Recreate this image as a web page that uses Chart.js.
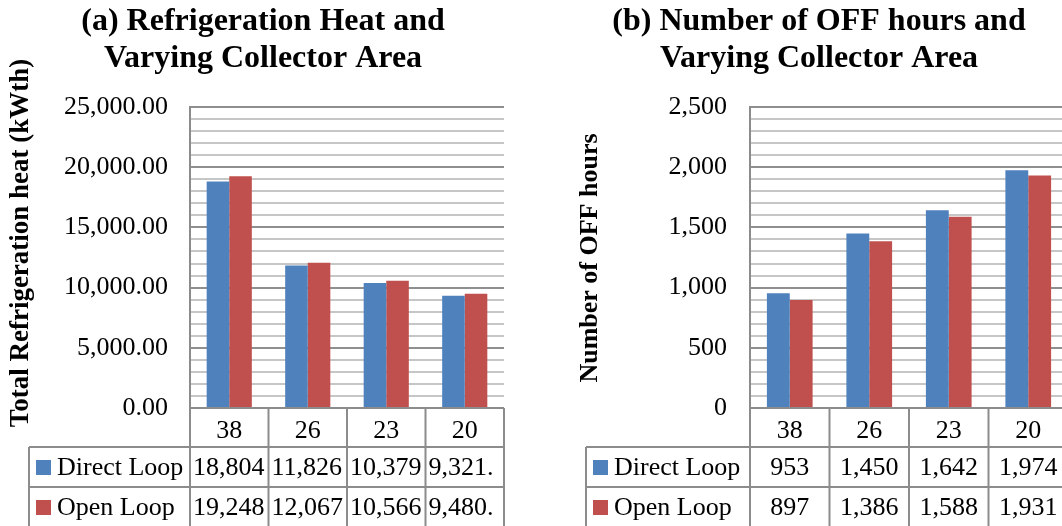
<!DOCTYPE html>
<html>
<head>
<meta charset="utf-8">
<script src="https://cdn.jsdelivr.net/npm/chart.js@4"></script>
<style>
  html, body { margin: 0; padding: 0; background: #fff; overflow: hidden; }
  #wrap { position: relative; width: 1062px; height: 526px; overflow: hidden; }
  canvas { position: absolute; top: 0; }
</style>
</head>
<body>
<div id="wrap">
  <canvas id="heatChart" width="531" height="526" style="left:0"></canvas>
  <canvas id="offChart" width="535" height="526" style="left:560px"></canvas>
</div>
<script>
// collector area categories and results per loop type
const areas = ['38', '26', '23', '20'];
const heatDirect = [18804, 11826, 10379, 9321];
const heatOpen = [19248, 12067, 10566, 9480];
const offDirect = [953, 1450, 1642, 1974];
const offOpen = [897, 1386, 1588, 1931];

const BLUE = '#4F81BD';
const RED = '#C0504D';
const LINE = '#8c8c8c';
const SERIF = '"Liberation Serif", "Times New Roman", serif';

function fmt(v, decimals) {
    return v.toLocaleString('en-US', { minimumFractionDigits: decimals, maximumFractionDigits: decimals });
}

// data table under the plot, plus the rotated y axis title
const tablePlugin = {
    id: 'dataTable',
    afterDraw(chart, args, opts) {
        const { ctx, chartArea: area, scales: { x } } = chart;
        const cols = chart.data.labels.length;
        const colW = (area.right - area.left) / cols;
        const rows = [area.bottom, area.bottom + 39, area.bottom + 79];
        const bottom = chart.height;

        ctx.save();
        ctx.strokeStyle = LINE;
        ctx.lineWidth = 2;
        ctx.beginPath();
        for (let i = 0; i <= cols; i++) {
            const px = area.left + i * colW;
            ctx.moveTo(px, area.bottom);
            ctx.lineTo(px, bottom);
        }
        ctx.moveTo(area.left, area.bottom);
        ctx.lineTo(area.right, area.bottom);
        ctx.moveTo(opts.left, rows[1]);
        ctx.lineTo(area.right, rows[1]);
        ctx.moveTo(opts.left, rows[2]);
        ctx.lineTo(area.right, rows[2]);
        ctx.moveTo(opts.left, rows[1]);
        ctx.lineTo(opts.left, bottom);
        ctx.stroke();

        ctx.font = '26px ' + SERIF;
        ctx.textBaseline = 'middle';
        chart.data.datasets.forEach((ds, r) => {
            const mid = rows[r + 1] + 20;
            ctx.fillStyle = ds.backgroundColor;
            ctx.fillRect(opts.left + 7, mid - 7, 15, 15);
            ctx.fillStyle = '#000';
            ctx.textAlign = 'left';
            ctx.fillText(ds.label, opts.left + 28, mid + 1);

            ds.data.forEach((v, i) => {
                const cx = x.getPixelForTick(i);
                let s = fmt(v, opts.decimals);
                if (ctx.measureText(s).width <= colW - 6) {
                    ctx.textAlign = 'center';
                    ctx.fillText(s, cx, mid + 1);
                } else {
                    // cell too narrow: keep only the characters that fit
                    while (s.length && ctx.measureText(s).width > colW - 6) s = s.slice(0, -1);
                    ctx.textAlign = 'left';
                    ctx.fillText(s, cx - colW / 2 + 3, mid + 1);
                }
            });
        });

        ctx.translate(opts.titleX, opts.titleY);
        ctx.rotate(-Math.PI / 2);
        ctx.font = 'bold ' + opts.titleSize + 'px ' + SERIF;
        ctx.textAlign = 'center';
        ctx.fillText(opts.title, 0, 0);
        ctx.restore();
    }
};

function makeChart(id, cfg) {
    return new Chart(document.getElementById(id), {
        type: 'bar',
        plugins: [tablePlugin],
        data: {
            labels: areas,
            datasets: [
                { label: 'Direct Loop', data: cfg.direct, backgroundColor: BLUE },
                { label: 'Open Loop', data: cfg.open, backgroundColor: RED }
            ]
        },
        options: {
            responsive: false,
            animation: false,
            layout: { padding: { left: cfg.padLeft, right: 27, top: 0, bottom: 0 } },
            datasets: { bar: { categoryPercentage: 0.575, barPercentage: 1 } },
            plugins: {
                legend: { display: false },
                tooltip: { enabled: false },
                title: {
                    display: true,
                    text: cfg.title,
                    color: '#000',
                    font: { family: SERIF, size: 32, weight: 'bold', lineHeight: 37 / 32 },
                    padding: { top: 3.5, bottom: 29.5 }
                },
                dataTable: {
                    left: cfg.tableLeft,
                    decimals: cfg.decimals,
                    title: cfg.axisTitle,
                    titleSize: cfg.axisSize,
                    titleX: cfg.axisX,
                    titleY: cfg.axisY
                }
            },
            scales: {
                x: {
                    grid: { display: false },
                    border: { display: false },
                    ticks: { color: '#000', font: { family: SERIF, size: 26 }, padding: 0 },
                    afterFit(scale) { scale.height = 118; }
                },
                y: {
                    min: 0,
                    max: cfg.max,
                    border: { display: true, color: LINE, width: 2 },
                    grid: {
                        drawTicks: false,
                        lineWidth: 2,
                        color: c => (c.tick.value % cfg.major === 0 ? '#8f8f8f' : '#c6c6c6')
                    },
                    ticks: {
                        stepSize: cfg.step,
                        autoSkip: false,
                        padding: cfg.tickPad,
                        color: '#000',
                        font: { family: SERIF, size: 26 },
                        callback: v => (v % cfg.major === 0 ? fmt(v, cfg.decimals) : '')
                    },
                    afterFit(scale) { scale.width = cfg.axisWidth; }
                }
            }
        }
    });
}

makeChart('heatChart', {
    direct: heatDirect,
    open: heatOpen,
    title: ['(a) Refrigeration Heat and', 'Varying Collector Area'],
    axisTitle: 'Total Refrigeration heat (kWth)',
    axisSize: 27, axisX: 21, axisY: 243,
    max: 25000, step: 1000, major: 5000, decimals: 2,
    padLeft: 22, axisWidth: 168, tickPad: 22, tableLeft: 29
});

makeChart('offChart', {
    direct: offDirect,
    open: offOpen,
    title: ['(b) Number of OFF hours and', 'Varying Collector Area'],
    axisTitle: 'Number of OFF hours',
    axisSize: 26, axisX: 30, axisY: 258,
    max: 2500, step: 100, major: 500, decimals: 0,
    padLeft: 10, axisWidth: 180, tickPad: 23, tableLeft: 26
});
</script>
</body>
</html>
